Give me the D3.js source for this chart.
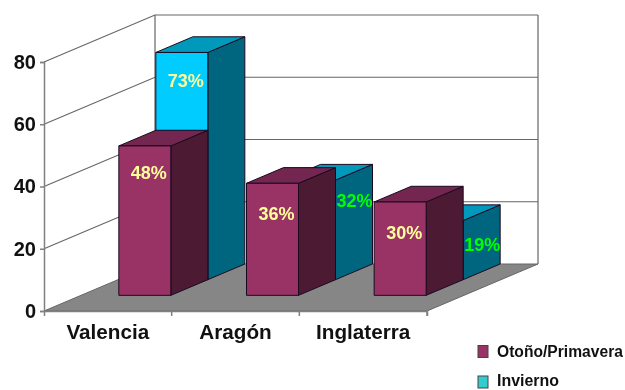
<!DOCTYPE html>
<html><head><meta charset="utf-8">
<script src="https://cdn.jsdelivr.net/npm/d3@7"></script>
<style>html,body{margin:0;background:#fff}svg{display:block;font-family:"Liberation Sans",Arial,sans-serif;font-weight:bold;filter:blur(0.4px)}</style>
</head><body><svg id="c" width="625" height="390"></svg>
<script>
const categories = ["Valencia","Aragón","Inglaterra"];
const seriesNames = ["Otoño/Primavera","Invierno"];
const otonoPrimavera = [48,36,30];
const invierno = [73,32,19];
const yTicks = [0,20,40,60,80];

const svg = d3.select("#c");
const x = d3.scaleBand().domain(categories).range([44,427]);
const y = d3.scaleLinear().domain([0,80]).range([311,62]);
const depth = d3.scaleLinear().domain([0,1]).range([[0,0],[111,-47]]);
const barW = 52;
const lineCol = "#666";

const P = (pts)=>pts.map(p=>p.join(",")).join(" ");
const at = (px,val,d)=>{const o=depth(d);return [px+o[0],y(val)+o[1]];};
const x0 = x.range()[0], x1 = x.range()[1];

// floor
svg.append("polygon").attr("points",P([at(x0,0,0),at(x1,0,0),at(x1,0,1),at(x0,0,1)]))
  .attr("fill","#868686").attr("stroke",lineCol).attr("stroke-width",1);

// walls and gridlines
yTicks.forEach(t=>{
  if(t>0) svg.append("polyline").attr("points",P([at(x0,t,0),at(x0,t,1),at(x1,t,1)]))
    .attr("fill","none").attr("stroke",lineCol).attr("stroke-width",1.2);
});
svg.append("line").attr("x1",at(x0,0,1)[0]).attr("y1",at(x0,0,1)[1]).attr("x2",at(x0,80,1)[0]).attr("y2",at(x0,80,1)[1]).attr("stroke",lineCol).attr("stroke-width",1.2);
svg.append("line").attr("x1",at(x1,0,1)[0]).attr("y1",at(x1,0,1)[1]).attr("x2",at(x1,80,1)[0]).attr("y2",at(x1,80,1)[1]).attr("stroke",lineCol).attr("stroke-width",1.2);

// axes
const yAxis = d3.axisLeft(y).tickValues(yTicks).tickSize(4).tickPadding(4);
const gy = svg.append("g").attr("transform",`translate(${x0},0)`).call(yAxis);
gy.selectAll("text").attr("font-size",20).attr("font-family","Liberation Sans").attr("font-weight","bold").attr("fill","#111");
gy.selectAll("line,path").attr("stroke","#808080").attr("stroke-width",1.5);

const xAxis = d3.axisBottom(x).tickSizeInner(0).tickSizeOuter(5).tickPadding(13);
const gx = svg.append("g").attr("transform",`translate(0,${y(0)})`).call(xAxis);
gx.selectAll("text").attr("font-size",20.7).attr("font-family","Liberation Sans").attr("font-weight","bold").attr("fill","#111");
gx.selectAll("path").attr("stroke","#808080").attr("stroke-width",1.5);
x.domain().forEach(c=>gx.append("line").attr("x1",x(c)+x.bandwidth()).attr("x2",x(c)+x.bandwidth()).attr("y1",0).attr("y2",5).attr("stroke","#808080").attr("stroke-width",1.5));

// bars: back series first
const specs = [
 {vals:invierno, d0:2/3, d1:1, front:"#00ccff", top:"#0099bb", side:"#006680", label:["#ffff99","#00ff00","#00ff00"], dx:[0,41,41], dy:[35,27,30]},
 {vals:otonoPrimavera, d0:1/3, d1:2/3, front:"#993366", top:"#722650", side:"#4d1a33", label:["#ffff99","#ffff99","#ffff99"], dx:[0,0,0], dy:[33,37,37]}
];
const labels = [];
specs.forEach(s=>{
  categories.forEach((c,i)=>{
    const v=s.vals[i];
    const l=x(c)+x.bandwidth()/2-barW/2, r=l+barW;
    const g=svg.append("g").attr("stroke","#1a0a20").attr("stroke-width",1).attr("stroke-linejoin","round");
    g.append("polygon").attr("points",P([at(r,0,s.d0),at(r,0,s.d1),at(r,v,s.d1),at(r,v,s.d0)])).attr("fill",s.side);
    g.append("polygon").attr("points",P([at(l,v,s.d0),at(r,v,s.d0),at(r,v,s.d1),at(l,v,s.d1)])).attr("fill",s.top);
    g.append("polygon").attr("points",P([at(l,0,s.d0),at(r,0,s.d0),at(r,v,s.d0),at(l,v,s.d0)])).attr("fill",s.front);
    const p=at((l+r)/2,v,s.d0);
    labels.push({t:v+"%",x:p[0]+4+s.dx[i],y:p[1]+s.dy[i],f:s.label[i]});
  });
});
svg.selectAll("text.lab").data(labels).join("text").attr("class","lab")
  .attr("x",d=>d.x).attr("y",d=>d.y).attr("fill",d=>d.f).attr("font-size",18).attr("text-anchor","middle").text(d=>d.t);

// legend
const legendY = d3.scalePoint().domain(seriesNames).range([351.5,382]);
const legendText = d3.scalePoint().domain(seriesNames).range([357,386]);
const legendFill = ["#993366","#33cccc"];
const legendLen = [126,62];
seriesNames.forEach((n,i)=>{
  svg.append("rect").attr("x",478).attr("y",legendY(n)-6).attr("width",10).attr("height",12).attr("fill",legendFill[i]).attr("stroke","#444").attr("stroke-width",1);
  const t=svg.append("text").attr("font-size",17).attr("fill","#111").text(n);
  const k=legendLen[i]/t.node().getComputedTextLength();
  t.attr("transform",`translate(497,${legendText(n)}) scale(${k},1)`);
});
</script></body></html>
